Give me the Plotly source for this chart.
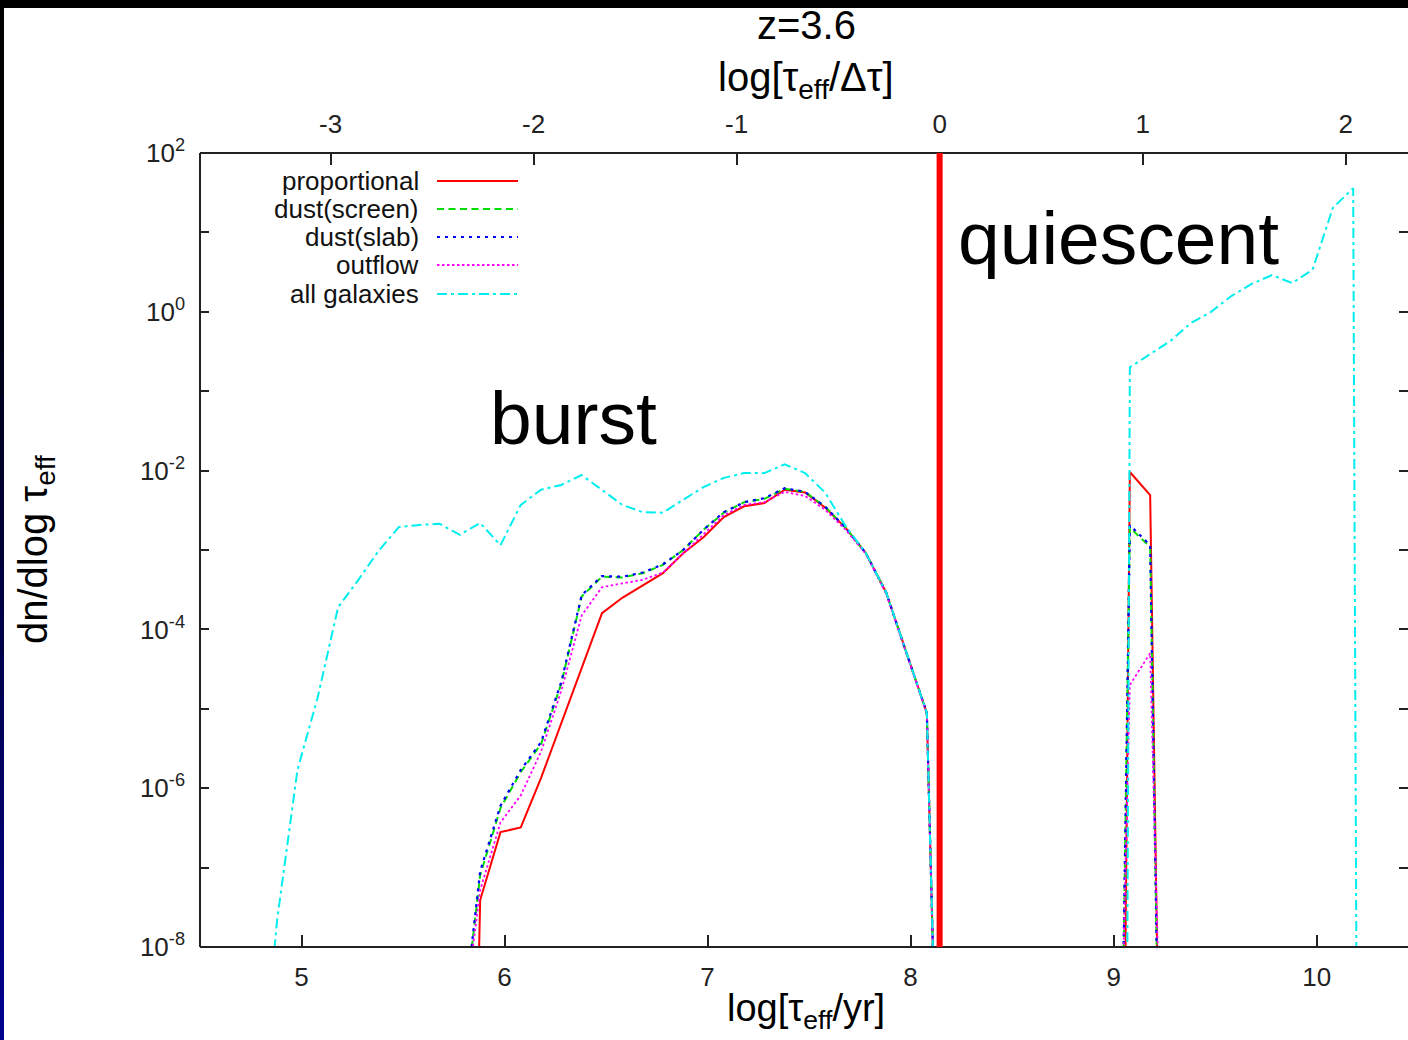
import plotly.graph_objects as go

# ---------------- data ----------------
x_burst = [4.78, 4.88, 4.98, 5.08, 5.18, 5.28, 5.38, 5.48, 5.58, 5.68,
           5.78, 5.88, 5.98, 6.08, 6.18, 6.28, 6.38, 6.48, 6.58, 6.68,
           6.78, 6.88, 6.98, 7.08, 7.18, 7.28, 7.38, 7.48, 7.58, 7.68,
           7.78, 7.88, 7.98, 8.08, 8.18]
x_quiescent = [8.98, 9.08, 9.18, 9.28, 9.38, 9.48, 9.58, 9.68, 9.78, 9.88,
               9.98, 10.08, 10.18, 10.28]

# values for x_burst[10:] (5.78 ... 8.18)
proportional_burst = [5e-20, 3.9e-8, 2.8e-7, 3.2e-7, 1.35e-6, 6.6e-6, 3.2e-5, 1.6e-4, 2.5e-4, 3.6e-4,
                      5.1e-4, 9.1e-4, 1.45e-3, 2.6e-3, 3.55e-3, 3.9e-3, 5.75e-3, 5.3e-3, 3.4e-3, 1.9e-3,
                      9.1e-4, 2.9e-4, 5.0e-5, 8.9e-6, 1e-15]
screen_burst = [5e-10, 8e-8, 5.6e-7, 1.6e-6, 3.6e-6, 2.1e-5, 2.6e-4, 4.6e-4, 4.5e-4, 5.1e-4,
                6.5e-4, 1.0e-3, 1.8e-3, 2.95e-3, 4.0e-3, 4.4e-3, 5.9e-3, 5.4e-3, 3.5e-3, 1.9e-3,
                9.1e-4, 2.9e-4, 5.0e-5, 8.9e-6, 1e-15]
slab_burst = [5e-10, 9e-8, 6e-7, 1.7e-6, 3.8e-6, 2.2e-5, 2.7e-4, 4.7e-4, 4.6e-4, 5.2e-4,
              6.6e-4, 1.0e-3, 1.8e-3, 3.0e-3, 4.0e-3, 4.5e-3, 6.0e-3, 5.4e-3, 3.5e-3, 1.9e-3,
              9.1e-4, 2.9e-4, 5.0e-5, 8.9e-6, 1e-15]
outflow_burst = [5e-10, 5.2e-8, 3.7e-7, 8.1e-7, 2.9e-6, 1.7e-5, 1.5e-4, 3.4e-4, 3.8e-4, 4.2e-4,
                 5.2e-4, 9.1e-4, 1.6e-3, 2.75e-3, 3.7e-3, 4.0e-3, 5.4e-3, 4.8e-3, 3.2e-3, 1.8e-3,
                 8.9e-4, 2.8e-4, 4.9e-5, 8.7e-6, 1e-15]
# all galaxies over the whole x_burst grid
all_burst = [4e-11, 2.2e-8, 1.7e-6, 1.4e-5, 1.9e-4, 4.2e-4, 9.8e-4, 1.95e-3, 2.07e-3, 2.14e-3,
             1.55e-3, 2.19e-3, 1.15e-3, 3.7e-3, 5.75e-3, 6.6e-3, 8.8e-3, 5.75e-3, 3.7e-3, 3.0e-3,
             2.95e-3, 4.3e-3, 6.2e-3, 8.1e-3, 9.3e-3, 9.3e-3, 1.2e-2, 9.3e-3, 5.25e-3, 2.0e-3,
             9.1e-4, 2.9e-4, 5.0e-5, 8.9e-6, 1e-15]

# values for x_quiescent[:4] (8.98 ... 9.28)
proportional_q = [1e-30, 9.6e-3, 4.9e-3, 1e-19]
screen_q = [1e-20, 1.9e-3, 1.1e-3, 2e-19]
slab_q = [1e-20, 2.05e-3, 1.15e-3, 2e-19]
outflow_q = [4e-16, 2.0e-5, 5.0e-5, 5e-15]
# all galaxies over the whole x_quiescent grid
all_q = [1e-60, 0.20, 0.29, 0.43, 0.72, 1.0, 1.58, 2.24, 2.9, 2.3, 3.4, 20.4, 36.0, 1e-60]

series_names = ["proportional", "dust(screen)", "dust(slab)", "outflow", "all galaxies"]
x_ticks_bottom = [5, 6, 7, 8, 9, 10]
x_ticks_top = [-3, -2, -1, 0, 1, 2]
x_ticks_top_text = ["-3", "-2", "-1", "0", "1", "2"]
y_tick_vals = [1e-8, 1e-7, 1e-6, 1e-5, 1e-4, 1e-3, 1e-2, 1e-1, 1e0, 1e1, 1e2]
y_tick_text = ["10<sup>-8</sup>", "", "10<sup>-6</sup>", "", "10<sup>-4</sup>", "",
               "10<sup>-2</sup>", "", "10<sup>0</sup>", "", "10<sup>2</sup>"]
OFFSET = 8.143  # log(dtau/yr): top axis = bottom axis - OFFSET

# ---------------- styling ----------------
W, H = 1408, 1040
ML, MT, MB, MR = 200, 153, 93, 0
PW, PH = W - ML - MR, H - MT - MB
FONT = "Liberation Sans, Arial, sans-serif"
AX = "#222222"

def pxx(px):
    return (px - ML) / PW

def pxy(py):
    return (H - MB - py) / PH

styles = [
    dict(color="#ff0000", width=2, dash="solid"),
    dict(color="#00dd00", width=2, dash="7px,4.5px"),
    dict(color="#0000ff", width=2.2, dash="3px,5px"),
    dict(color="#ff00ff", width=1.8, dash="2.5px,2.5px"),
    dict(color="#00eeee", width=2, dash="10px,4px,3px,4px"),
]

def pad_burst(v):
    return [None] * (len(x_burst) - len(v)) + v

def pad_q(v):
    return v + [None] * (len(x_quiescent) - len(v))

xs = x_burst + x_quiescent
ys = [
    pad_burst(proportional_burst) + pad_q(proportional_q),
    pad_burst(screen_burst) + pad_q(screen_q),
    pad_burst(slab_burst) + pad_q(slab_q),
    pad_burst(outflow_burst) + pad_q(outflow_q),
    all_burst + all_q,
]

fig = go.Figure()
for name, y, st in zip(series_names, ys, styles):
    fig.add_trace(go.Scatter(x=xs, y=y, mode="lines", name=name, line=st,
                             showlegend=False, hoverinfo="skip"))
# carrier for top axis
fig.add_trace(go.Scatter(x=[None], y=[None], xaxis="x2", yaxis="y",
                         showlegend=False, hoverinfo="skip"))

x_range = [4.5, 10.45]
tickfont = dict(family=FONT, size=26, color=AX)
fig.update_layout(
    width=W, height=H,
    margin=dict(l=ML, r=MR, t=MT, b=MB, pad=0),
    paper_bgcolor="white", plot_bgcolor="white",
    font=dict(family=FONT, color="black"),
    xaxis=dict(range=x_range, tickvals=x_ticks_bottom, ticks="inside", ticklen=12,
               tickwidth=1.5, tickcolor=AX, showline=False, showgrid=False,
               zeroline=False, tickfont=tickfont, ticklabelstandoff=12),
    xaxis2=dict(range=[x_range[0] - OFFSET, x_range[1] - OFFSET], overlaying="x",
                side="top", tickvals=x_ticks_top, ticktext=x_ticks_top_text,
                ticks="inside", ticklen=12, tickwidth=1.5, tickcolor=AX,
                showline=False, showgrid=False, zeroline=False, tickfont=tickfont,
                ticklabelstandoff=14),
    yaxis=dict(type="log", range=[-8, 2], tickvals=y_tick_vals, ticktext=y_tick_text,
               ticks="inside", ticklen=9, tickwidth=1.5, tickcolor=AX, mirror="ticks",
               showline=False, showgrid=False, zeroline=False, tickfont=tickfont,
               ticklabelstandoff=14),
)

shapes = []
# slide background decoration: black top band and dark-blue gradient strip on the left
shapes.append(dict(type="rect", xref="paper", yref="paper", x0=pxx(0), x1=pxx(W),
                   y0=pxy(8), y1=pxy(-2), fillcolor="black", line=dict(width=0), layer="above"))
nseg = 24
for i in range(nseg):
    y0p = 8 + i * (H - 8) / nseg
    y1p = 8 + (i + 1) * (H - 8) / nseg
    t = max(0.0, (y0p - 200) / (H - 200))
    col = "rgb(0,0,%d)" % int(150 * t)
    shapes.append(dict(type="rect", xref="paper", yref="paper", x0=pxx(-1), x1=pxx(4),
                       y0=pxy(y1p + 1), y1=pxy(y0p), fillcolor=col, line=dict(width=0),
                       layer="above"))
# plot frame (left, top, bottom)
frame = dict(color=AX, width=2)
shapes.append(dict(type="line", xref="paper", yref="paper", x0=0, x1=0, y0=0, y1=1, line=frame))
shapes.append(dict(type="line", xref="paper", yref="paper", x0=0, x1=1, y0=1, y1=1, line=frame))
shapes.append(dict(type="line", xref="paper", yref="paper", x0=0, x1=1, y0=0, y1=0, line=frame))
# red divider at log(tau_eff/dtau)=0
shapes.append(dict(type="line", xref="x", yref="paper", x0=OFFSET, x1=OFFSET, y0=0, y1=1,
                   line=dict(color="#ff0000", width=6)))
# legend samples
row_y = [181, 209, 237, 265, 294]
for st, ry in zip(styles, row_y):
    shapes.append(dict(type="line", xref="paper", yref="paper", x0=pxx(437), x1=pxx(518),
                       y0=pxy(ry), y1=pxy(ry), line=st))
fig.update_layout(shapes=shapes)

ann = []
for name, ry in zip(series_names, row_y):
    ann.append(dict(text=name, xref="paper", yref="paper", x=pxx(421), y=pxy(ry),
                    xanchor="right", yanchor="middle", showarrow=False,
                    font=dict(family=FONT, size=26, color="#111")))
title_font = dict(family=FONT, size=40, color="black")
ann.append(dict(text="z=3.6", xref="paper", yref="paper", x=pxx(806), y=pxy(25),
                xanchor="center", yanchor="middle", showarrow=False, font=title_font))
ann.append(dict(text="log[τ<sub>eff</sub>/Δτ]", xref="paper", yref="paper", x=pxx(806), y=pxy(80),
                xanchor="center", yanchor="middle", showarrow=False, font=title_font))
ann.append(dict(text="log[τ<sub>eff</sub>/yr]", xref="paper", yref="paper", x=pxx(806), y=pxy(1011),
                xanchor="center", yanchor="middle", showarrow=False,
                font=dict(family=FONT, size=38, color="black")))
ann.append(dict(text="dn/dlog τ<sub>eff</sub>", xref="paper", yref="paper", x=pxx(36), y=pxy(550),
                xanchor="center", yanchor="middle", textangle=-90, showarrow=False, font=title_font))
big = dict(family=FONT, size=75, color="black")
ann.append(dict(text="burst", xref="paper", yref="paper", x=pxx(573), y=pxy(418),
                xanchor="center", yanchor="middle", showarrow=False, font=big))
ann.append(dict(text="quiescent", xref="paper", yref="paper", x=pxx(1118), y=pxy(238),
                xanchor="center", yanchor="middle", showarrow=False, font=big))
fig.update_layout(annotations=ann)

fig.write_html("out.html")
